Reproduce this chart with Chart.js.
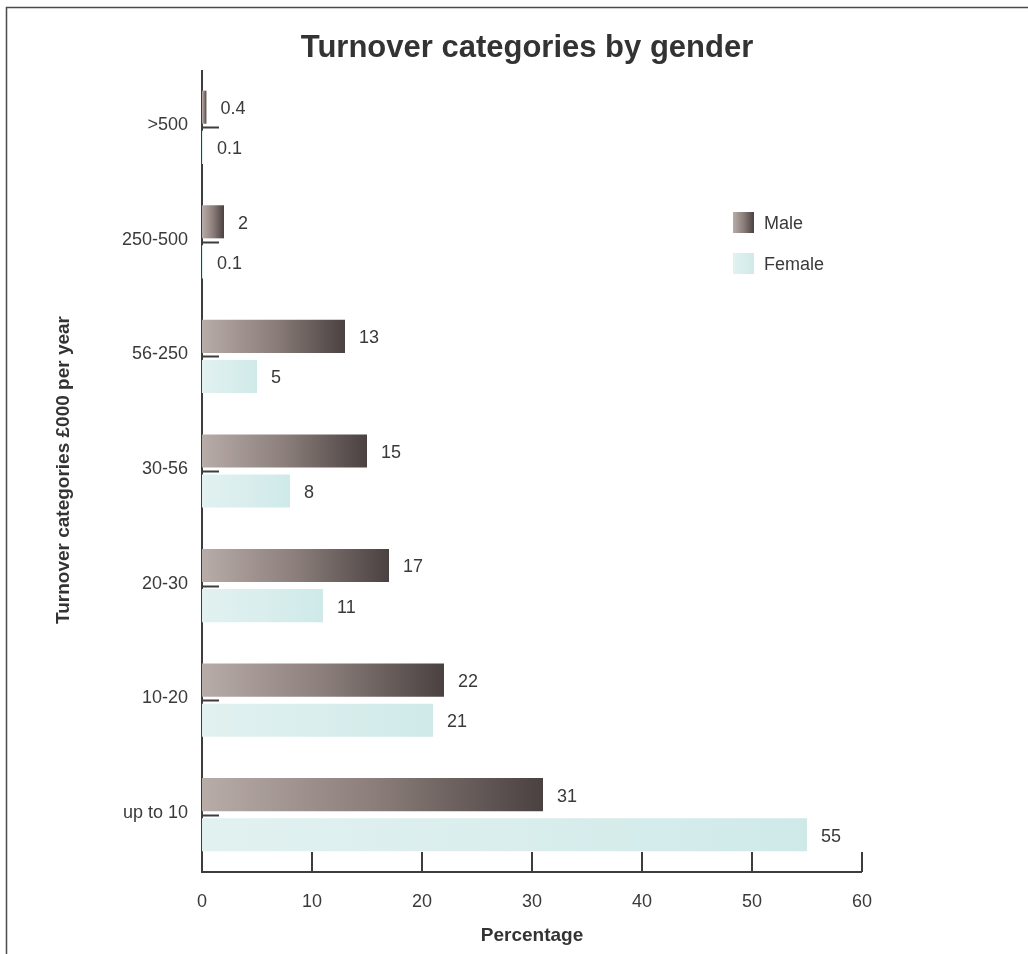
<!DOCTYPE html>
<html>
<head>
<meta charset="utf-8">
<title>Turnover categories by gender</title>
<script src="https://cdn.jsdelivr.net/npm/chart.js@4.4.1/dist/chart.umd.min.js"></script>
<style>
  html, body { margin: 0; padding: 0; background: #ffffff; }
  #wrap { position: relative; width: 1028px; height: 954px; }
</style>
</head>
<body>
<div id="wrap"><canvas id="chart" width="1028" height="954"></canvas></div>
<script>
// Turnover bands (£000 per year), listed top to bottom
const categories = ['>500', '250-500', '56-250', '30-56', '20-30', '10-20', 'up to 10'];
// Share of businesses in each band (%)
const maleValues = [0.4, 2, 13, 15, 17, 22, 31];
const femaleValues = [0.1, 0.1, 5, 8, 11, 21, 55];
// Percentage axis ticks
const xTicks = [0, 10, 20, 30, 40, 50, 60];

const seriesNames = ['Male', 'Female'];
const chartTitle = 'Turnover categories by gender';
const xTitle = 'Percentage';
const yTitle = 'Turnover categories £000 per year';

const INK = '#3a3a3a';
const AXIS = '#3d3d3d';
const FONT = '"Liberation Sans", Arial, sans-serif';

const maleStops = ['#b8aca8', '#8c7f7b', '#4a4141'];
const femaleStops = ['#e1f1f0', '#d9eeed', '#cfe9e9'];

// Each bar gets its own left-to-right gradient, running from the zero line to the bar end
function barGradient(stops, fallback) {
  return (ctx) => {
    const chart = ctx.chart;
    if (!chart.chartArea || ctx.type !== 'data') return fallback;
    const xs = chart.scales.x;
    const x0 = xs.getPixelForValue(0);
    let x1 = xs.getPixelForValue(ctx.raw);
    if (x1 - x0 < 2) x1 = x0 + 2;
    const g = chart.ctx.createLinearGradient(x0, 0, x1, 0);
    g.addColorStop(0, stops[0]);
    g.addColorStop(0.5, stops[1]);
    g.addColorStop(1, stops[2]);
    return g;
  };
}

// Page frame, title, axes, ticks, labels and legend
const decorations = {
  id: 'decorations',
  beforeDatasetsDraw(chart) {
    const { ctx, chartArea: a, scales: { x, y } } = chart;
    ctx.save();
    // frame along the top and left edges
    ctx.strokeStyle = '#4a4a4a';
    ctx.lineWidth = 1.5;
    ctx.beginPath();
    ctx.moveTo(6.5, 954);
    ctx.lineTo(6.5, 7.5);
    ctx.lineTo(1028, 7.5);
    ctx.stroke();

    // axis lines
    const x0 = x.getPixelForValue(0);
    ctx.strokeStyle = AXIS;
    ctx.lineWidth = 2;
    ctx.beginPath();
    ctx.moveTo(x0, a.top);
    ctx.lineTo(x0, a.bottom);
    ctx.lineTo(x.getPixelForValue(xTicks[xTicks.length - 1]), a.bottom);
    ctx.stroke();

    // x ticks point up into the plot
    ctx.beginPath();
    xTicks.forEach(v => {
      if (v === 0) return;
      const px = Math.round(x.getPixelForValue(v));
      ctx.moveTo(px, a.bottom);
      ctx.lineTo(px, a.bottom - 20);
    });
    // category ticks point right from the axis
    categories.forEach((c, i) => {
      const py = Math.round(y.getPixelForValue(i)) + 0.5;
      ctx.moveTo(x0, py);
      ctx.lineTo(x0 + 17, py);
    });
    ctx.stroke();

    ctx.fillStyle = INK;
    ctx.font = '18px ' + FONT;
    ctx.textBaseline = 'middle';
    ctx.textAlign = 'center';
    xTicks.forEach(v => {
      ctx.fillText(String(v), x.getPixelForValue(v), a.bottom + 30);
    });
    ctx.textAlign = 'right';
    categories.forEach((c, i) => {
      ctx.fillText(c, x0 - 14, y.getPixelForValue(i) - 2);
    });

    // titles
    ctx.font = 'bold 31px ' + FONT;
    ctx.textAlign = 'center';
    ctx.fillStyle = '#333333';
    ctx.fillText(chartTitle, 527, 48);
    ctx.font = 'bold 19px ' + FONT;
    ctx.fillText(xTitle, (a.left + a.right) / 2, 936);
    ctx.save();
    ctx.translate(64, 470);
    ctx.rotate(-Math.PI / 2);
    ctx.fillText(yTitle, 0, 0);
    ctx.restore();

    // legend
    const swatches = [maleStops, femaleStops];
    const legendY = [223, 264];
    ctx.font = '18px ' + FONT;
    ctx.textAlign = 'left';
    seriesNames.forEach((name, i) => {
      const top = legendY[i] - 11;
      const g = ctx.createLinearGradient(733, 0, 754, 0);
      g.addColorStop(0, swatches[i][0]);
      g.addColorStop(0.5, swatches[i][1]);
      g.addColorStop(1, swatches[i][2]);
      ctx.fillStyle = g;
      ctx.fillRect(733, top, 21, 21);
      ctx.fillStyle = INK;
      ctx.fillText(name, 764, legendY[i] + 1);
    });
    ctx.restore();
  },
  afterDatasetsDraw(chart) {
    const { ctx } = chart;
    ctx.save();
    ctx.fillStyle = INK;
    ctx.font = '18px ' + FONT;
    ctx.textAlign = 'left';
    ctx.textBaseline = 'middle';
    chart.data.datasets.forEach((ds, di) => {
      const meta = chart.getDatasetMeta(di);
      meta.data.forEach((bar, i) => {
        ctx.fillText(String(ds.data[i]), bar.x + 14, bar.y + 2);
      });
    });
    ctx.restore();
  }
};

new Chart(document.getElementById('chart'), {
  type: 'bar',
  data: {
    labels: categories,
    datasets: [
      {
        label: seriesNames[0],
        data: maleValues,
        backgroundColor: barGradient(maleStops, maleStops[1]),
        borderWidth: 0,
        categoryPercentage: 0.7,
        barPercentage: 0.825
      },
      {
        label: seriesNames[1],
        data: femaleValues,
        backgroundColor: barGradient(femaleStops, femaleStops[1]),
        borderWidth: 0,
        categoryPercentage: 0.7,
        barPercentage: 0.825
      }
    ]
  },
  options: {
    indexAxis: 'y',
    responsive: false,
    animation: false,
    events: [],
    layout: { padding: { left: 202, right: 166, top: 70, bottom: 82 } },
    scales: {
      x: { display: false, min: 0, max: 60 },
      y: { display: false, offset: true }
    },
    plugins: {
      legend: { display: false },
      title: { display: false },
      tooltip: { enabled: false }
    }
  },
  plugins: [decorations]
});
</script>
</body>
</html>
